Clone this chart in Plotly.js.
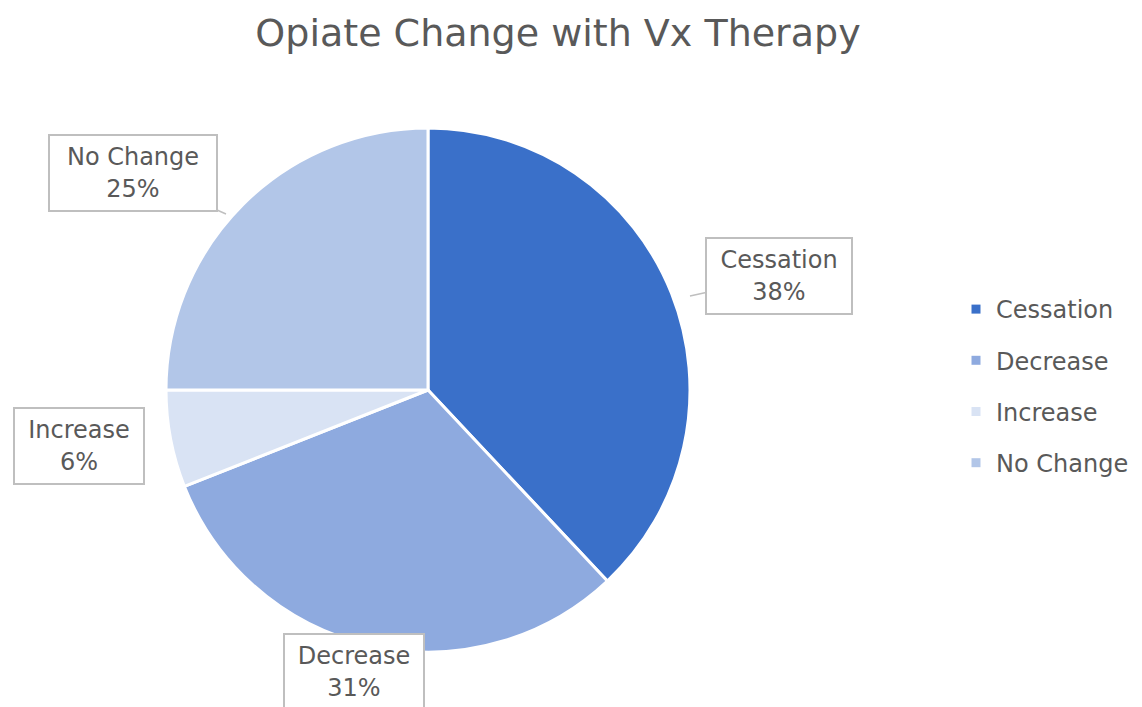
<!DOCTYPE html>
<html>
<head>
<meta charset="utf-8">
<script src="https://cdn.plot.ly/plotly-3.0.1.min.js"></script>
<style>
  html, body { margin: 0; padding: 0; background: #fff; }
  #chart { width: 1142px; height: 707px; }
</style>
</head>
<body>
<div id="chart"></div>
<script>
// data
const categories = ['Cessation', 'Decrease', 'Increase', 'No Change'];
const shares = [38, 31, 6, 25];
const sliceColors = ['#3a70c9', '#8eaadf', '#d9e3f4', '#b2c6e8'];

const TEXT_COLOR = '#595959';
const FONT = '"DejaVu Sans", "Open Sans", sans-serif';

// callout boxes: [text x, text y, arrow tip x, arrow tip y, box width] in pixels
const calloutPos = [
    [779, 276, 690, 296, 134],
    [354, 672, 354, 672, 128],
    [79, 446, 79, 446, 118],
    [133, 173, 226, 214, 156]
];

const W = 1142, H = 707;
const total = shares.reduce((a, b) => a + b, 0);

const pie = {
    type: 'pie',
    labels: categories,
    values: shares,
    sort: false,
    direction: 'clockwise',
    rotation: 0,
    textinfo: 'none',
    hoverinfo: 'label+percent',
    showlegend: false,
    marker: { colors: sliceColors, line: { color: '#ffffff', width: 3 } },
    domain: { x: [166 / W, 690 / W], y: [(H - 652) / H, (H - 128) / H] }
};

// legend entries (one per category so they can be spaced like the original)
const legendTraces = categories.map((c, i) => ({
    type: 'scatter',
    mode: 'markers',
    x: [null],
    y: [null],
    name: c,
    legendgroup: 'g' + i,
    marker: { symbol: 'square', size: 9, color: sliceColors[i] },
    hoverinfo: 'skip'
}));

const annotations = categories.map((c, i) => {
    const p = calloutPos[i];
    const pct = Math.round(shares[i] / total * 100);
    const arrow = p[0] !== p[2] || p[1] !== p[3];
    return {
        text: c + '<br>' + pct + '%',
        xref: 'paper', yref: 'paper',
        x: p[2] / W, y: 1 - p[3] / H,
        xanchor: 'center', yanchor: 'middle',
        ax: p[0] - p[2], ay: p[1] - p[3],
        axref: 'pixel', ayref: 'pixel',
        showarrow: arrow,
        arrowhead: 0,
        arrowwidth: 1.5,
        arrowcolor: '#bfbfbf',
        standoff: 0,
        width: p[4],
        height: 64,
        font: { family: FONT, size: 24, color: TEXT_COLOR },
        bgcolor: '#ffffff',
        bordercolor: '#bfbfbf',
        borderwidth: 2,
        borderpad: 5,
        align: 'center'
    };
});

const layout = {
    width: W,
    height: H,
    margin: { l: 0, r: 0, t: 0, b: 0 },
    paper_bgcolor: '#ffffff',
    plot_bgcolor: '#ffffff',
    title: {
        text: 'Opiate Change with Vx Therapy',
        font: { family: FONT, size: 38, color: TEXT_COLOR },
        x: 558 / W,
        xanchor: 'center',
        y: 1 - 33 / H,
        yanchor: 'middle'
    },
    xaxis: { visible: false },
    yaxis: { visible: false },
    showlegend: true,
    legend: {
        x: 956 / W,
        xanchor: 'left',
        y: 1 - 386 / H,
        yanchor: 'middle',
        tracegroupgap: 17,
        font: { family: FONT, size: 24, color: TEXT_COLOR },
        bgcolor: 'rgba(0,0,0,0)'
    },
    annotations: annotations
};

Plotly.newPlot('chart', [pie].concat(legendTraces), layout, { displayModeBar: false });
</script>
</body>
</html>
